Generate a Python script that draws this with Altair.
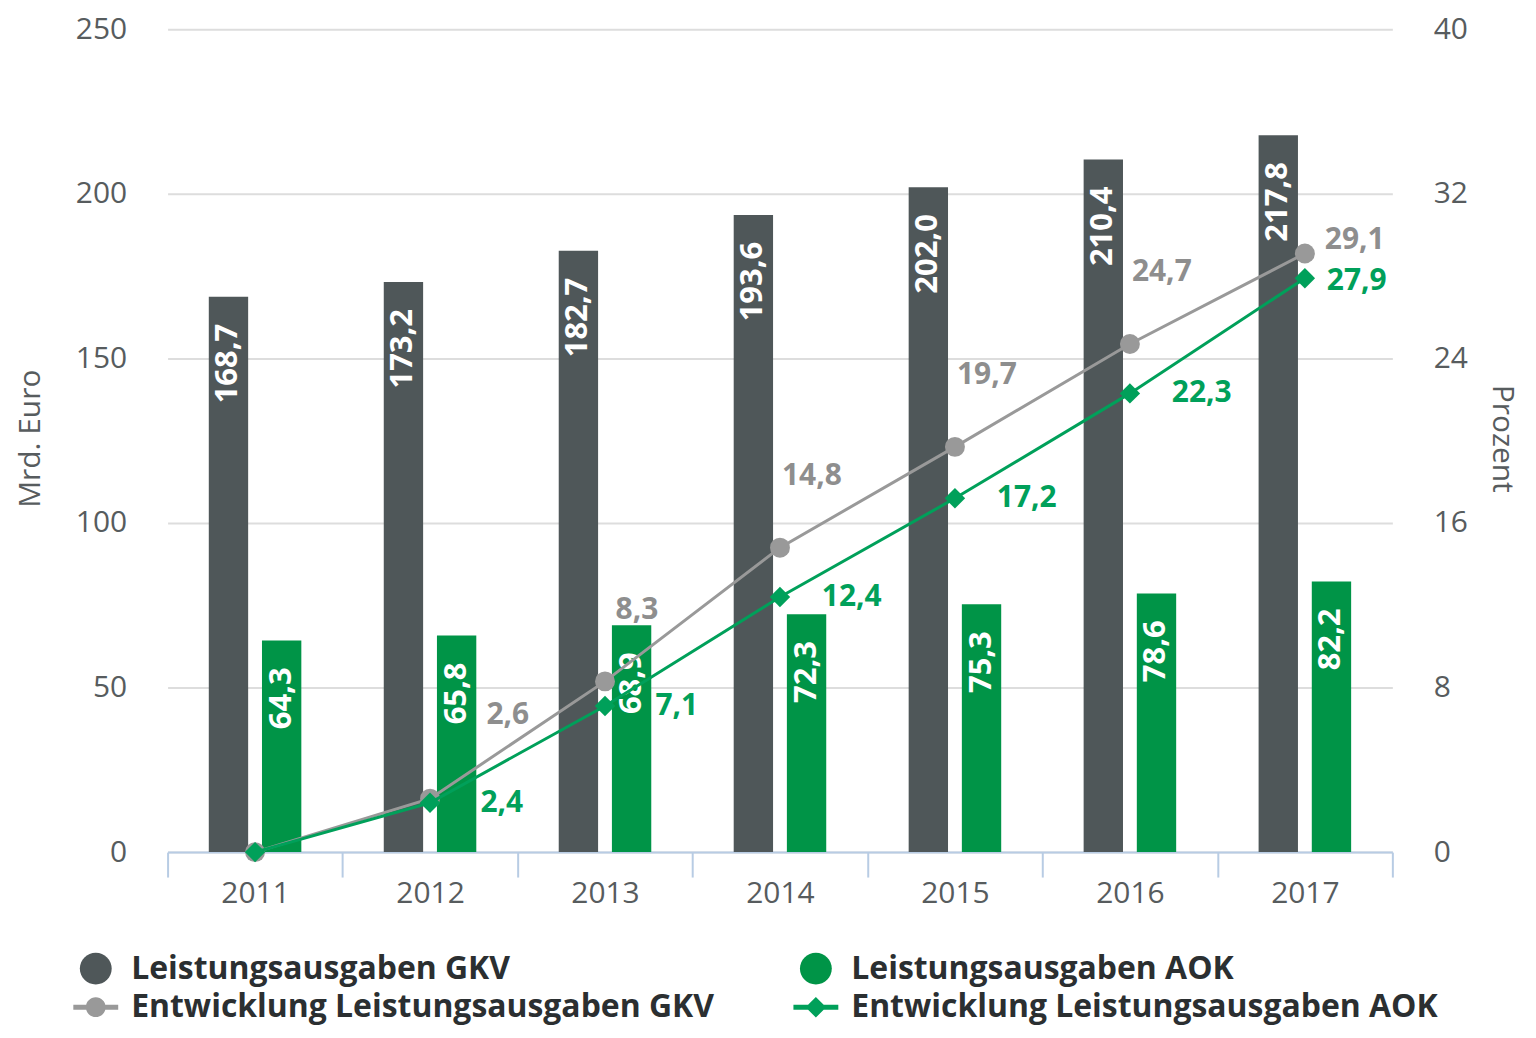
import altair as alt
import pandas as pd

years = ["2011", "2012", "2013", "2014", "2015", "2016", "2017"]
gkv_spend = [168.7, 173.2, 182.7, 193.6, 202.0, 210.4, 217.8]
aok_spend = [64.3, 65.8, 68.9, 72.3, 75.3, 78.6, 82.2]
gkv_growth = [0.0, 2.6, 8.3, 14.8, 19.7, 24.7, 29.1]
aok_growth = [0.0, 2.4, 7.1, 12.4, 17.2, 22.3, 27.9]

S_GKV = "Leistungsausgaben GKV"
S_AOK = "Leistungsausgaben AOK"
S_GKV_L = "Entwicklung Leistungsausgaben GKV"
S_AOK_L = "Entwicklung Leistungsausgaben AOK"
series_order = [S_GKV, S_AOK, S_GKV_L, S_AOK_L]
C_GKV, C_AOK, C_GKV_L, C_AOK_L = "#4f5759", "#009447", "#999999", "#00a05a"
series_colors = [C_GKV, C_AOK, C_GKV_L, C_AOK_L]

FONT = "Open Sans"
AXIS_COLOR = "#575c5e"
LAST = len(years) - 1


def de(v):
    return f"{v:.1f}".replace(".", ",")


bars_df = pd.DataFrame(
    [{"year": y, "value": v, "series": S_GKV, "label": de(v)} for y, v in zip(years, gkv_spend)]
    + [{"year": y, "value": v, "series": S_AOK, "label": de(v)} for y, v in zip(years, aok_spend)]
)
lines_df = pd.DataFrame(
    [{"year": y, "pct": v, "series": S_GKV_L, "label": de(v), "idx": i}
     for i, (y, v) in enumerate(zip(years, gkv_growth))]
    + [{"year": y, "pct": v, "series": S_AOK_L, "label": de(v), "idx": i}
       for i, (y, v) in enumerate(zip(years, aok_growth))]
)
legend_df = pd.DataFrame({"series": series_order})

color_scale = alt.Scale(domain=series_order, range=series_colors)

bar_circle = "M-0.71,0A0.71,0.71 0 1,1 0.71,0A0.71,0.71 0 1,1 -0.71,0Z"
line_circle = ("M-1,-0.11L1,-0.11L1,0.11L-1,0.11Z "
               "M-0.44,0A0.44,0.44 0 1,1 0.44,0A0.44,0.44 0 1,1 -0.44,0Z")
line_diamond = ("M-1,-0.11L1,-0.11L1,0.11L-1,0.11Z "
                "M0,-0.46L0.46,0L0,0.46L-0.46,0Z")
shape_scale = alt.Scale(domain=series_order,
                        range=[bar_circle, bar_circle, line_circle, line_diamond])

x_enc = alt.X(
    "year:N",
    sort=years,
    scale=alt.Scale(paddingInner=0, paddingOuter=0, round=False),
    axis=alt.Axis(
        title=None, labelAngle=0, labelFont=FONT, labelFontSize=30,
        labelColor=AXIS_COLOR, labelPadding=2, domainColor="#b8cce4",
        domainWidth=2, tickColor="#b8cce4", tickWidth=2, tickSize=25,
        tickBand="extent", grid=False,
    ),
)

y_left = alt.Y(
    "value:Q",
    scale=alt.Scale(domain=[0, 250], nice=False),
    axis=alt.Axis(
        values=[0, 50, 100, 150, 200, 250], orient="left", grid=True,
        gridColor="#dddddd", gridWidth=2, domain=False, ticks=False,
        labelFont=FONT, labelFontSize=30, labelColor=AXIS_COLOR, labelPadding=41,
        title="Mrd. Euro", titleFont=FONT, titleFontSize=30, titleFontWeight="normal",
        titleColor=AXIS_COLOR, titleX=-137, titleY=410, titleAngle=270,
        titleAlign="center", titleBaseline="middle",
    ),
)

y_right = alt.Y(
    "pct:Q",
    scale=alt.Scale(domain=[0, 40], nice=False),
    axis=alt.Axis(
        values=[0, 8, 16, 24, 32, 40], orient="right", grid=False,
        domain=False, ticks=False, labelFont=FONT, labelFontSize=30,
        labelColor=AXIS_COLOR, labelPadding=41, labelAlign="left",
        title="Prozent", titleFont=FONT, titleFontSize=30, titleFontWeight="normal",
        titleColor=AXIS_COLOR, titleX=109, titleY=410, titleAngle=90,
        titleAlign="center", titleBaseline="middle",
    ),
)

x_off = alt.XOffset("series:N",
                    scale=alt.Scale(domain=[S_GKV, S_AOK], paddingInner=0.26,
                                    paddingOuter=0.775))

bar_layers = []
for s, c in [(S_GKV, C_GKV), (S_AOK, C_AOK)]:
    bar_layers.append(
        alt.Chart(bars_df).transform_filter(alt.datum.series == s).mark_bar(color=c).encode(
            x=x_enc, xOffset=x_off, y=y_left)
    )
bar_text = alt.Chart(bars_df).mark_text(
    angle=270, align="right", baseline="middle", dx=-27, color="white",
    font=FONT, fontSize=31, fontWeight="bold",
).encode(x=x_enc, xOffset=x_off, y=y_left, text="label:N")

left_layer = alt.layer(*bar_layers, bar_text)

gkv_only = alt.datum.series == S_GKV_L
aok_only = alt.datum.series == S_AOK_L

gkv_line = alt.Chart(lines_df).transform_filter(gkv_only).mark_line(
    strokeWidth=3, color=C_GKV_L).encode(x=x_enc, y=y_right)
gkv_pts = alt.Chart(lines_df).transform_filter(gkv_only).mark_point(
    shape="circle", size=400, filled=True, opacity=1, strokeWidth=0,
    color=C_GKV_L).encode(x=x_enc, y=y_right)
aok_line = alt.Chart(lines_df).transform_filter(aok_only).mark_line(
    strokeWidth=3, color=C_AOK_L).encode(x=x_enc, y=y_right)
aok_pts = alt.Chart(lines_df).transform_filter(aok_only).mark_point(
    shape="diamond", size=420, filled=True, opacity=1, strokeWidth=0,
    color=C_AOK_L).encode(x=x_enc, y=y_right)

label_style = dict(align="center", baseline="middle", font=FONT, fontSize=30,
                   fontWeight="bold")
GRAY_TXT = "#8e8e8e"
# first growth value sits beside the AOK bar: label lifted further
gkv_text_first = alt.Chart(lines_df).transform_filter(gkv_only).transform_filter(
    alt.datum.idx == 1).mark_text(dx=78, dy=-84, color=GRAY_TXT, **label_style).encode(
    x=x_enc, y=y_right, text="label:N")
gkv_text = alt.Chart(lines_df).transform_filter(gkv_only).transform_filter(
    (alt.datum.idx > 1) & (alt.datum.idx < LAST)).mark_text(
    dx=32, dy=-72, color=GRAY_TXT, **label_style).encode(
    x=x_enc, y=y_right, text="label:N")
gkv_text_last = alt.Chart(lines_df).transform_filter(gkv_only).transform_filter(
    alt.datum.idx == LAST).mark_text(dx=50, dy=-14, color=GRAY_TXT, **label_style).encode(
    x=x_enc, y=y_right, text="label:N")
aok_text = alt.Chart(lines_df).transform_filter(aok_only).transform_filter(
    (alt.datum.pct > 0) & (alt.datum.idx < LAST)).mark_text(
    dx=72, dy=0, color=C_AOK_L, **label_style).encode(
    x=x_enc, y=y_right, text="label:N")
aok_text_last = alt.Chart(lines_df).transform_filter(aok_only).transform_filter(
    alt.datum.idx == LAST).mark_text(dx=52, dy=3, color=C_AOK_L, **label_style).encode(
    x=x_enc, y=y_right, text="label:N")

right_layer = alt.layer(gkv_line, gkv_pts, aok_line, aok_pts,
                        gkv_text_first, gkv_text, gkv_text_last, aok_text, aok_text_last)

legend_def = alt.Legend(
    title=None, orient="none", legendX=-94.5, legendY=919, columns=2,
    direction="horizontal",
    columnPadding=79, rowPadding=0, symbolSize=2025, symbolStrokeWidth=0,
    labelFont=FONT, labelFontSize=32, labelFontWeight="bold", labelColor="#2b2f31",
    labelOffset=13, padding=0, labelLimit=1000, symbolOpacity=1,
)
legend_layer = alt.Chart(legend_df).transform_filter("false").mark_point(
    filled=True).encode(
    color=alt.Color("series:N", scale=color_scale, legend=legend_def),
    shape=alt.Shape("series:N", scale=shape_scale, legend=legend_def),
)

chart = alt.layer(left_layer, right_layer, legend_layer).resolve_scale(
    y="independent"
).properties(
    width=1228, height=825,
    autosize=alt.AutoSizeParams(type="none"),
    padding={"left": 160, "top": 20, "right": 136, "bottom": 172},
).configure_view(stroke=None)

chart.save("out.html", embed_options={"renderer": "svg", "actions": False})
